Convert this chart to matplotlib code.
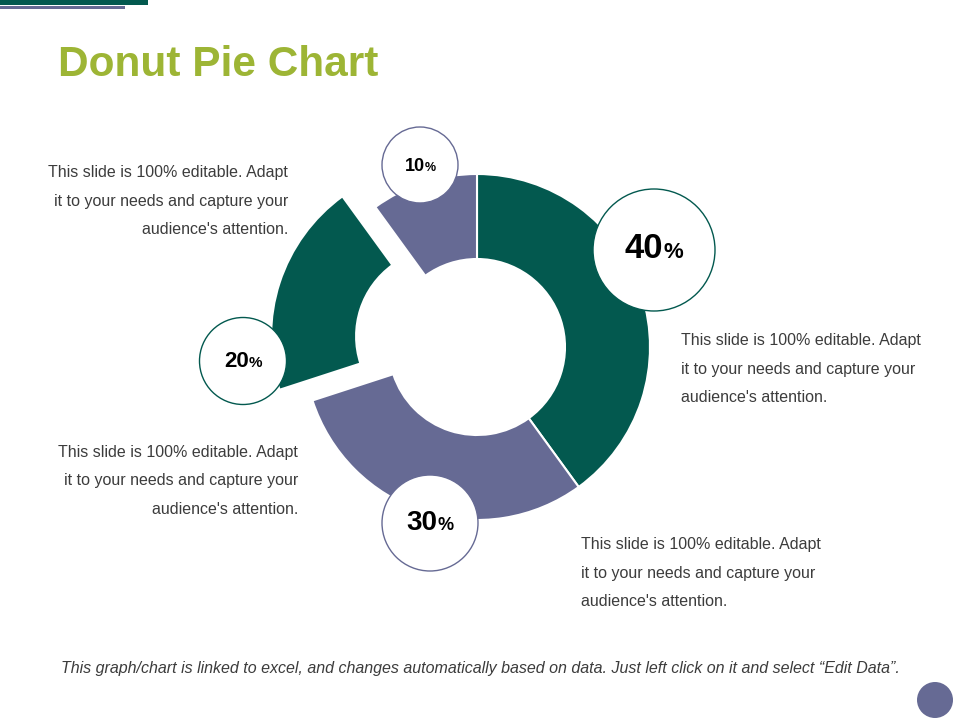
import matplotlib.pyplot as plt
from matplotlib.patches import Circle, Rectangle

plt.rcParams["font.family"] = ["Liberation Sans", "DejaVu Sans"]

# data
shares = [40, 30, 20, 10]
share_labels = ["40", "30", "20", "10"]
exploded = [0, 0, 1, 0]

title = "Donut Pie Chart"
blurb = ["This slide is 100% editable. Adapt",
         "it to your needs and capture your",
         "audience's attention."]
footer = ("This graph/chart is linked to excel, and changes automatically "
          "based on data. Just left click on it and select \u201cEdit Data\u201d.")

GREEN = "#03594f"
PURPLE = "#666a94"
LIME = "#9db535"
GREY = "#3c3c3c"

W, H = 960, 720
def Y(y):
    return H - y

fig = plt.figure(figsize=(9.6, 7.2), dpi=100)
ax = fig.add_axes([0, 0, 1, 1])

# donut
cx, cy, R = 477, Y(347), 173
ax.pie(shares, colors=[GREEN, PURPLE, GREEN, PURPLE],
       explode=[e * 0.2 * R for e in exploded],
       startangle=90, counterclock=False, center=(cx, cy), radius=R,
       wedgeprops=dict(width=85, edgecolor="white", linewidth=1.5))

ax.set_xlim(0, W)
ax.set_ylim(0, H)
ax.set_aspect("equal")
ax.axis("off")

# header bars
ax.add_patch(Rectangle((0, Y(4.5)), 148, 4.5, color=GREEN, lw=0))
ax.add_patch(Rectangle((0, Y(9)), 125, 3, color=PURPLE, lw=0))
ax.text(58, Y(76), title, fontsize=30.5, fontweight="bold", color=LIME,
        ha="left", va="baseline")

# label bubbles: (x, y, radius, edge, big size, small size, baseline)
bubbles = [(654, 250, 61, GREEN, 25, 16, 258),
           (430, 523, 48, PURPLE, 20, 13, 530),
           (243, 361, 43.5, GREEN, 16, 11, 367),
           (420, 165, 38, PURPLE, 13, 9, 171)]

fig.canvas.draw()
rend = fig.canvas.get_renderer()
for lab, (bx, by, br, ec, fs1, fs2, base) in zip(share_labels, bubbles):
    ax.add_patch(Circle((bx, Y(by)), br, facecolor="white", edgecolor=ec,
                        lw=1.0, zorder=5))
    t1 = ax.text(0, Y(base), lab, fontsize=fs1, fontweight="bold",
                 ha="left", va="baseline", zorder=6)
    t2 = ax.text(0, Y(base), "%", fontsize=fs2, fontweight="bold",
                 ha="left", va="baseline", zorder=6)
    w1 = t1.get_window_extent(rend).width
    w2 = t2.get_window_extent(rend).width
    x0 = bx - (w1 + w2) / 2
    t1.set_x(x0)
    t2.set_x(x0 + w1)

# side texts: (anchor x, first line y, alignment)
blocks = [(288, 173, "right"), (298, 452, "right"),
          (681, 341, "left"), (581, 545, "left")]
for bx, by, ha in blocks:
    for i, line in enumerate(blurb):
        ax.text(bx, Y(by + i * 28.5), line, fontsize=11.5, color=GREY,
                ha=ha, va="center")

ax.text(480, Y(669), footer, fontsize=11.5, style="italic", color=GREY,
        ha="center", va="center")

ax.add_patch(Circle((935, Y(700)), 18, color=PURPLE, lw=0))

fig.savefig("out.png", dpi=100)
